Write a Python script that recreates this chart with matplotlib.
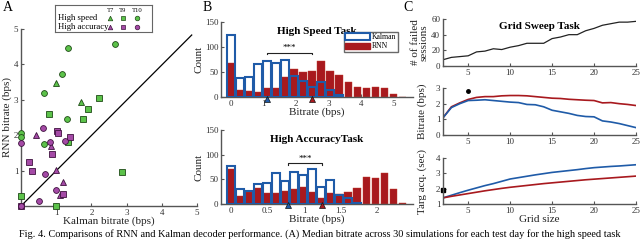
import matplotlib
matplotlib.use("Agg")
import matplotlib.pyplot as plt
import numpy as np
from matplotlib.patches import Patch

plt.rcParams['font.family'] = ['Liberation Serif', 'DejaVu Serif']

# ---------------- Panel A data ----------------
hs_t7_x = [0.99, 1.71]
hs_t7_y = [3.47, 2.93]
hs_t9_x = [2.21, 1.91, 0.80, 1.75, 1.34, 0.00, 2.88, 0.99]
hs_t9_y = [3.06, 2.75, 2.59, 2.46, 1.81, 0.27, 0.96, 0.00]
hs_t10_x = [2.67, 1.34, 1.17, 0.66, 1.31, 0.64, 0.00, 0.00]
hs_t10_y = [4.59, 4.47, 3.74, 3.19, 2.46, 1.76, 2.05, 1.96]
ha_t7_x = [0.43, 0.84, 0.99, 1.18, 1.11]
ha_t7_y = [2.00, 1.70, 1.01, 0.68, 0.32]
ha_t9_x = [1.03, 1.06, 1.38, 0.24, 0.30, 0.87, 1.18, 0.00]
ha_t9_y = [2.13, 2.05, 1.94, 1.24, 1.00, 1.46, 0.35, 0.00]
ha_t10_x = [0.62, 0.82, 1.25, 0.00, 0.68, 0.99, 0.52, 0.00]
ha_t10_y = [2.21, 1.81, 1.85, 1.77, 0.91, 0.44, 0.13, 0.00]

# ---------------- Panel B data ----------------
speed_bin = 5 / 18
speed_kalman = [125, 38, 41, 66, 73, 68, 75, 42, 33, 20, 31, 14, 5]
speed_rnn = [68, 14, 13, 11, 18, 18, 41, 57, 50, 52, 73, 52, 45, 30, 20, 18, 21, 19, 7, 1]
speed_medians = [1.1, 2.5]  # Kalman, RNN
acc_bin = 0.1235
acc_kalman = [77, 31, 26, 40, 42, 62, 47, 64, 58, 71, 35, 48, 18, 12, 3]
acc_rnn = [71, 17, 24, 32, 22, 22, 26, 30, 34, 25, 13, 22, 20, 24, 32, 55, 53, 63, 30, 3]
acc_medians = [0.78, 1.24]

# ---------------- Panel C data ----------------
grid = list(range(2, 26))
failed = [8, 11, 12, 13, 18, 19, 22, 21, 24, 26, 29, 29, 29, 35, 37, 40, 40, 45, 48, 52, 54, 56, 56, 57]
bitrate_rnn = [1.10, 1.80, 2.05, 2.27, 2.40, 2.45, 2.45, 2.50, 2.52, 2.52, 2.50, 2.45, 2.40,
               2.35, 2.33, 2.28, 2.25, 2.22, 2.20, 2.05, 2.07, 2.00, 1.95, 1.88]
bitrate_kal = [1.10, 1.75, 2.00, 2.20, 2.22, 2.25, 2.20, 2.15, 2.10, 2.07, 1.95, 1.93, 1.80,
               1.58, 1.48, 1.38, 1.25, 1.18, 1.16, 0.90, 0.83, 0.73, 0.60, 0.47]
targ_kal = [1.40, 1.57, 1.74, 1.90, 2.05, 2.20, 2.33, 2.48, 2.63, 2.72, 2.81, 2.90, 2.98,
            3.06, 3.12, 3.18, 3.24, 3.31, 3.37, 3.41, 3.45, 3.48, 3.52, 3.56]
targ_rnn = [1.40, 1.50, 1.59, 1.68, 1.77, 1.86, 1.94, 2.02, 2.09, 2.15, 2.21, 2.27, 2.33,
            2.38, 2.43, 2.48, 2.53, 2.58, 2.62, 2.66, 2.70, 2.74, 2.78, 2.82]
bitrate_dot = (5, 2.8)
targ_dot = (2, 1.9)

BLUE = '#1f5ba8'
RED = '#a8191e'
GREEN = '#5cc24a'
GREEN_E = '#1e4a16'
PURP = '#a44aa6'
PURP_E = '#3e123e'
SPINE = '#555555'

fig = plt.figure(figsize=(6.4, 2.41), dpi=100)


def style(ax, fs=6.5):
    for s in ['top', 'right']:
        ax.spines[s].set_visible(False)
    for s in ['left', 'bottom']:
        ax.spines[s].set_color(SPINE)
        ax.spines[s].set_linewidth(1.0)
    ax.tick_params(direction='in', length=2, width=0.8, colors=SPINE, labelsize=fs,
                   labelcolor='#333333', pad=2)

# ---------------- Panel A ----------------
axA = fig.add_axes([21 / 640, 1 - 206 / 241, 176 / 640, 177 / 241])
style(axA, 6.5)
axA.plot([0, 4.85], [0, 4.83], color='black', lw=0.9)
mk = dict(ms=4.2, mew=0.6, ls='none', clip_on=False, zorder=3)
axA.plot(hs_t7_x, hs_t7_y, '^', mfc=GREEN, mec=GREEN_E, **mk)
axA.plot(hs_t9_x, hs_t9_y, 's', mfc=GREEN, mec=GREEN_E, **mk)
axA.plot(hs_t10_x, hs_t10_y, 'o', mfc=GREEN, mec=GREEN_E, **mk)
axA.plot(ha_t7_x, ha_t7_y, '^', mfc=PURP, mec=PURP_E, **mk)
axA.plot(ha_t9_x, ha_t9_y, 's', mfc=PURP, mec=PURP_E, **mk)
axA.plot(ha_t10_x, ha_t10_y, 'o', mfc=PURP, mec=PURP_E, **mk)
axA.set_xlim(0, 5)
axA.set_ylim(0, 5)
axA.set_xticks([0, 1, 2, 3, 4, 5], ['', '1', '2', '3', '4', '5'])
axA.set_yticks([0, 1, 2, 3, 4, 5], ['', '1', '2', '3', '4', '5'])
axA.set_xlabel('Kalman bitrate (bps)', fontsize=8, labelpad=0, color='#222222')
axA.set_ylabel('RNN bitrate (bps)', fontsize=8, labelpad=1, color='#222222')

# legend for A
axL = fig.add_axes([55 / 640, 1 - 32 / 241, 97 / 640, 27 / 241])
axL.set_xlim(0, 1)
axL.set_ylim(0, 1)
axL.set_xticks([])
axL.set_yticks([])
for s in axL.spines.values():
    s.set_color('#666666')
    s.set_linewidth(0.8)
for xx, lab in zip([0.57, 0.70, 0.85], ['T7', 'T9', 'T10']):
    axL.text(xx, 0.81, lab, fontsize=4.8, ha='center', va='center')
axL.text(0.03, 0.50, 'High speed', fontsize=6.2, va='center')
axL.text(0.03, 0.19, 'High accuracy', fontsize=6.2, va='center')
for xx, m in zip([0.57, 0.70, 0.85], ['^', 's', 'o']):
    axL.plot(xx, 0.50, m, ms=3.3, mfc=GREEN, mec=GREEN_E, mew=0.5)
    axL.plot(xx, 0.19, m, ms=3.3, mfc=PURP, mec=PURP_E, mew=0.5)


# ---------------- Panel B ----------------
def hist_panel(rect, binw, kal, rnn, meds, xlim, xticks, xticklabels, title, sig_y):
    ax = fig.add_axes(rect)
    style(ax, 6.5)
    xr = np.arange(len(rnn)) * binw
    xk = np.arange(len(kal)) * binw
    ax.bar(xr, rnn, width=binw * 0.86, color=RED, edgecolor='#c0392b', lw=0.3, zorder=2)
    ax.bar(xk, kal, width=binw * 0.86, facecolor='none', edgecolor=BLUE, lw=1.5, zorder=3)
    ax.set_xlim(*xlim)
    ax.set_ylim(0, 150)
    ax.set_yticks([0, 50, 100, 150])
    ax.set_xticks(xticks, xticklabels)
    ax.plot([meds[0]], [-3], '^', ms=4.5, mfc=BLUE, mec='#111111', mew=0.5, clip_on=False, zorder=5)
    ax.plot([meds[1]], [-3], '^', ms=4.5, mfc=RED, mec='#111111', mew=0.5, clip_on=False, zorder=5)
    ax.plot([meds[0], meds[0], meds[1], meds[1]], [sig_y - 3, sig_y, sig_y, sig_y - 3],
            color='#222222', lw=0.8)
    ax.text((meds[0] + meds[1]) / 2, sig_y + 1, '***', ha='center', va='bottom', fontsize=6.5)
    ax.set_ylabel('Count', fontsize=8, labelpad=1, color='#222222')
    ax.set_xlabel('Bitrate (bps)', fontsize=8, labelpad=0, color='#222222')
    ax.text(0.5, 0.93, title, transform=ax.transAxes, ha='center', va='top',
            fontsize=8, fontweight='bold')
    return ax


axB1 = hist_panel([221 / 640, 1 - 97 / 241, 192 / 640, 75 / 241], speed_bin, speed_kalman, speed_rnn,
                  speed_medians, (-0.31, 5.6), [0, 1, 2, 3, 4, 5], ['0', '1', '2', '3', '4', '5'],
                  'High Speed Task', 89)
axB1.legend(handles=[Patch(facecolor='white', edgecolor=BLUE, lw=1.5, label='Kalman'),
                     Patch(facecolor=RED, edgecolor=RED, label='RNN')],
            loc='upper left', bbox_to_anchor=(0.64, 0.87), fontsize=5.5, frameon=True,
            fancybox=False, edgecolor='#444444', handlelength=3.2, handleheight=0.9,
            borderpad=0.2, labelspacing=0.15, handletextpad=0.3, borderaxespad=0)

axB2 = hist_panel([221 / 640, 1 - 204 / 241, 192 / 640, 74 / 241], acc_bin, acc_kalman, acc_rnn,
                  acc_medians, (-0.137, 2.49), [0, 0.5, 1, 1.5, 2], ['0', '0.5', '1', '1.5', '2'],
                  'High AccuracyTask', 83)

# ---------------- Panel C ----------------
left_c = 443 / 640
w_c = 193 / 640
axC1 = fig.add_axes([left_c, 1 - 66 / 241, w_c, 47 / 241])
style(axC1, 6.5)
axC1.plot(grid, failed, color='#222222', lw=0.9)
axC1.set_xlim(2, 25)
axC1.set_ylim(0, 60)
axC1.set_yticks([0, 20, 40, 60])
axC1.set_xticks([5, 10, 15, 20, 25])
axC1.set_ylabel('# of failed\nsessions', fontsize=8, labelpad=2, linespacing=0.9, color='#222222')
axC1.text(0.5, 0.93, 'Grid Sweep Task', transform=axC1.transAxes, ha='center', va='top',
          fontsize=8, fontweight='bold')

axC2 = fig.add_axes([left_c, 1 - 135 / 241, w_c, 47 / 241])
style(axC2, 6.5)
axC2.plot(grid, bitrate_rnn, color=RED, lw=1.2)
axC2.plot(grid, bitrate_kal, color=BLUE, lw=1.2)
axC2.plot([bitrate_dot[0]], [bitrate_dot[1]], 'o', color='black', ms=2.5)
axC2.set_xlim(2, 25)
axC2.set_ylim(0, 3)
axC2.set_yticks([0, 1, 2, 3])
axC2.set_xticks([5, 10, 15, 20, 25])
axC2.set_ylabel('Bitrate (bps)', fontsize=8, labelpad=6, color='#222222')

axC3 = fig.add_axes([left_c, 1 - 204 / 241, w_c, 46 / 241])
style(axC3, 6.5)
axC3.plot(grid, targ_kal, color=BLUE, lw=1.2)
axC3.plot(grid, targ_rnn, color=RED, lw=1.2)
axC3.plot([targ_dot[0]], [targ_dot[1]], 's', color='black', ms=2.3, clip_on=False)
axC3.set_xlim(2, 25)
axC3.set_ylim(1, 4)
axC3.set_yticks([1, 2, 3, 4])
axC3.set_xticks([5, 10, 15, 20, 25])
axC3.set_ylabel('Targ acq. (sec)', fontsize=8, labelpad=6, color='#222222')
axC3.set_xlabel('Grid size', fontsize=8, labelpad=0, color='#222222')

# panel letters
fig.text(3 / 640, 1 - 1 / 241, 'A', fontsize=10, va='top', ha='left')
fig.text(203 / 640, 1 - 1 / 241, 'B', fontsize=10, va='top', ha='left')
fig.text(403 / 640, 1 - 1 / 241, 'C', fontsize=10, va='top', ha='left')

# caption
fig.text(0.5, 1 - 234 / 241,
         'Fig. 4. Comparisons of RNN and Kalman decoder performance. (A) Median bitrate across 30 '
         'simulations for each test day for the high speed task',
         fontsize=7.4, ha='center', va='center')

fig.savefig('out.png', dpi=100)
